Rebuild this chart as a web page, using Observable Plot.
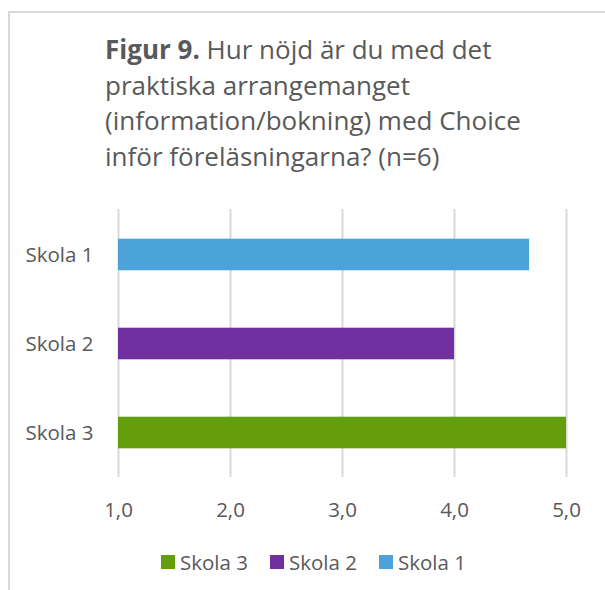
<!DOCTYPE html>
<html>
<head>
<meta charset="utf-8">
<script src="https://cdn.jsdelivr.net/npm/d3@7"></script>
<script src="https://cdn.jsdelivr.net/npm/@observablehq/plot@0.6"></script>
<style>
  html, body { margin: 0; padding: 0; background: #fff; }
  body { width: 605px; height: 590px; position: relative; overflow: hidden; font-family: "Open Sans", sans-serif; color: #595959; }
  #frame { position: absolute; left: 8px; top: 11px; width: 700px; height: 700px; border-left: 2px solid #d9d9d9; border-top: 2px solid #d9d9d9; }
  #title { position: absolute; left: 105px; top: 32px; font-size: 26px; line-height: 35.7px; white-space: nowrap; color: #595959; }
  #title b { font-weight: 700; }
  #chart { position: absolute; left: 0; top: 0; }
  #legend { position: absolute; left: 161px; top: 552px; height: 20px; display: flex; align-items: center; font-size: 20.5px; line-height: 20px; white-space: nowrap; }
  .item { display: flex; align-items: center; margin-right: 22px; }
  .sw { width: 14px; height: 14px; margin-right: 5px; }
</style>
</head>
<body>
<div id="frame"></div>
<div id="title"></div>
<div id="chart"></div>
<div id="legend"></div>
<script>
const titleBold = "Figur 9.";
const titleLines = ["Hur nöjd är du med det", "praktiska arrangemanget", "(information/bokning) med Choice", "inför föreläsningarna? (n=6)"];
const categories = ["Skola 1", "Skola 2", "Skola 3"];
const values = [4.67, 4.0, 5.0];
const colors = ["#4ba3d9", "#7030a0", "#659e0b"];
const xDomain = [1, 5];
const xTicks = [1, 2, 3, 4, 5];
const legendOrder = ["Skola 3", "Skola 2", "Skola 1"];

document.getElementById("title").innerHTML =
  "<b>" + titleBold + "</b> " + titleLines[0] + "<br>" + titleLines.slice(1).join("<br>");

const data = categories.map((c, i) => ({cat: c, value: values[i]}));

const chart = Plot.plot({
  width: 605,
  height: 590,
  marginTop: 209,
  marginBottom: 113,
  marginLeft: 118,
  marginRight: 39,
  style: {fontFamily: "Open Sans", fontSize: "20.5px", color: "#595959", background: "transparent"},
  x: {domain: xDomain, ticks: xTicks, tickFormat: d => d.toFixed(1).replace(".", ","), tickSize: 0, tickPadding: 25, label: null},
  y: {domain: categories, padding: 0, tickSize: 0, tickPadding: 25, label: null},
  color: {domain: categories, range: colors},
  marks: [
    Plot.gridX(xTicks, {stroke: "#d9d9d9", strokeOpacity: 1, strokeWidth: 2}),
    Plot.barX(data, {y: "cat", x1: () => xDomain[0], x2: "value", fill: "cat", insetTop: 28.7, insetBottom: 28.7})
  ]
});
chart.style.background = "transparent";
document.getElementById("chart").appendChild(chart);

const legend = document.getElementById("legend");
legendOrder.forEach(name => {
  const item = document.createElement("div");
  item.className = "item";
  const sw = document.createElement("div");
  sw.className = "sw";
  sw.style.background = colors[categories.indexOf(name)];
  const t = document.createElement("span");
  t.textContent = name;
  item.appendChild(sw);
  item.appendChild(t);
  legend.appendChild(item);
});
</script>
</body>
</html>
